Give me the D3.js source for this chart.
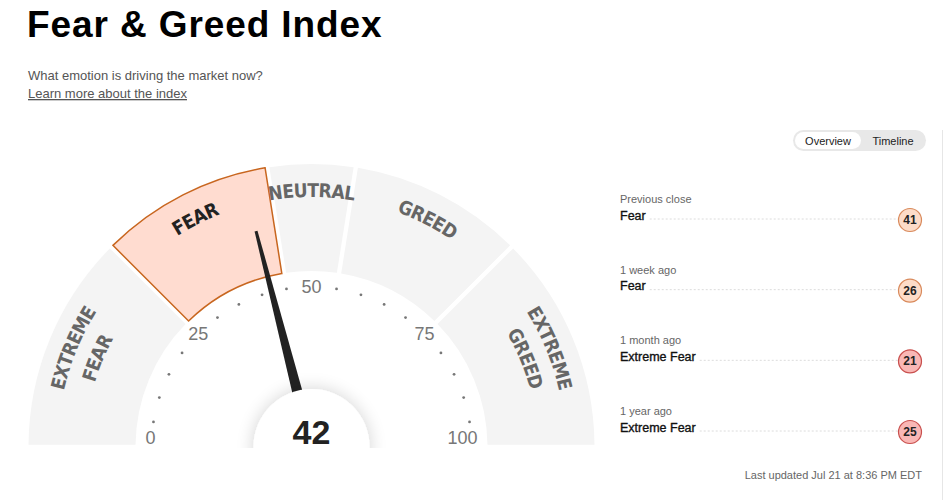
<!DOCTYPE html>
<html>
<head>
<meta charset="utf-8">
<script src="https://cdn.jsdelivr.net/npm/d3@7"></script>
<style>
  body { margin: 0; background: #fff; }
  svg { display: block; font-family: "Liberation Sans", Arial, sans-serif; }
</style>
</head>
<body>
<div id="chart"></div>
<script>
// data
const segmentNames = [["EXTREME", "FEAR"], ["FEAR"], ["NEUTRAL"], ["GREED"], ["EXTREME", "GREED"]];
const segmentBounds = [0, 25, 45, 55, 75, 100];
const tickLabels = [0, 25, 50, 75, 100];
const tickDots = [5, 10, 15, 20, 30, 35, 40, 45, 55, 60, 65, 70, 80, 85, 90, 95];
const currentValue = 42;
const currentSegment = 1;

const historyLabels = ["Previous close", "1 week ago", "1 month ago", "1 year ago"];
const historyRatings = ["Fear", "Fear", "Extreme Fear", "Extreme Fear"];
const historyValues = [41, 26, 21, 25];

const ratingFill = {"Extreme Fear": "#f9b7b5", "Fear": "#fddcc8", "Neutral": "#eeeeee", "Greed": "#cfe8d2", "Extreme Greed": "#a9d9b4"};
const ratingStroke = {"Extreme Fear": "#c9504e", "Fear": "#d98a5c", "Neutral": "#999", "Greed": "#4f9e60", "Extreme Greed": "#2f7f43"};

const W = 952, H = 500;
const gauge = {cx: 311.5, cy: 447, inner: 176, outer: 283};

const svg = d3.select('#chart')
    .append('svg')
    .attr('width', W)
    .attr('height', H);

// header
svg.append("text")
    .attr("x", 27).attr("y", 37)
    .text("Fear & Greed Index")
    .style("font-size", "37px")
    .style("font-weight", "bold")
    .style("letter-spacing", "0.9px")
    .style("fill", "#000");

svg.append("text")
    .attr("x", 28).attr("y", 80)
    .text("What emotion is driving the market now?")
    .style("font-size", "13px")
    .style("fill", "#555");

svg.append("text")
    .attr("x", 28).attr("y", 98)
    .text("Learn more about the index")
    .style("font-size", "13px")
    .style("fill", "#555")
    .style("text-decoration", "underline");

// gauge
const angle = d3.scaleLinear().domain([0, 100]).range([-Math.PI / 2, Math.PI / 2]);

const defs = svg.append("defs");
const shadow = defs.append("filter").attr("id", "glow")
    .attr("x", "-50%").attr("y", "-50%").attr("width", "200%").attr("height", "200%");
shadow.append("feGaussianBlur").attr("in", "SourceAlpha").attr("stdDeviation", 9);
shadow.append("feComponentTransfer").append("feFuncA").attr("type", "linear").attr("slope", 0.18);
const merge = shadow.append("feMerge");
merge.append("feMergeNode");
merge.append("feMergeNode").attr("in", "SourceGraphic");

defs.append("clipPath").attr("id", "gaugeClip")
    .append("rect").attr("x", 0).attr("y", 0).attr("width", W).attr("height", gauge.cy + 1);

const g = svg.append("g")
    .attr("transform", "translate(" + gauge.cx + "," + gauge.cy + ")");

const arc = d3.arc()
    .innerRadius(gauge.inner)
    .outerRadius(gauge.outer)
    .padAngle(0.013);

const segs = d3.range(segmentNames.length).map(i => ({
    startAngle: angle(segmentBounds[i]),
    endAngle: angle(segmentBounds[i + 1]),
    i: i
}));

g.selectAll(".seg")
    .data(segs)
    .enter().append("path")
    .attr("class", "seg")
    .attr("d", arc)
    .style("fill", d => d.i === currentSegment ? "#ffdcd0" : "#f4f4f4")
    .style("stroke", d => d.i === currentSegment ? "#c8661f" : "none")
    .style("stroke-width", 1.5);

// label paths along arcs
function arcPath(v0, v1, r) {
    const a0 = angle(v0), a1 = angle(v1);
    return "M" + (r * Math.sin(a0)) + "," + (-r * Math.cos(a0)) +
        " A" + r + "," + r + " 0 0 1 " + (r * Math.sin(a1)) + "," + (-r * Math.cos(a1));
}

segmentNames.forEach((lines, i) => {
    const radii = lines.length === 2 ? [254, 226] : [250];
    lines.forEach((line, j) => {
        const id = "lbl-" + i + "-" + j;
        defs.append("path").attr("id", id)
            .attr("d", arcPath(segmentBounds[i] - 20, segmentBounds[i + 1] + 20, radii[j]))
            .attr("transform", "translate(" + gauge.cx + "," + gauge.cy + ")");
        svg.append("text")
            .style("font-family", "'DejaVu Sans Condensed', sans-serif")
            .style("font-weight", "bold")
            .style("font-size", "19px")
            .style("letter-spacing", "-0.6px")
            .style("fill", i === currentSegment ? "#222" : "#666")
            .append("textPath")
            .attr("href", "#" + id)
            .attr("startOffset", "50%")
            .attr("text-anchor", "middle")
            .text(line);
    });
});

// ticks
const tickR = 160;
g.selectAll(".dot")
    .data(tickDots)
    .enter().append("circle")
    .attr("cx", d => tickR * Math.sin(angle(d)))
    .attr("cy", d => -tickR * Math.cos(angle(d)))
    .attr("r", 1.4)
    .style("fill", "#777");

// end labels sit inside the band edge, others centred on the dot ring
g.selectAll(".tick-label")
    .data(tickLabels)
    .enter().append("text")
    .attr("x", d => d === 0 ? -166 : d === 100 ? 166 : tickR * Math.sin(angle(d)))
    .attr("y", d => Math.min(-tickR * Math.cos(angle(d)), -9))
    .attr("dy", "0.35em")
    .attr("text-anchor", d => d === 0 ? "start" : d === 100 ? "end" : "middle")
    .text(d => d)
    .style("font-size", "18px")
    .style("fill", "#777");

// needle
const needleLen = 223;
g.append("path")
    .attr("d", "M-5.8,-25 L-1.5," + (-needleLen) + " L1.5," + (-needleLen) + " L5.8,-25 Z")
    .attr("transform", "rotate(" + (angle(currentValue) * 180 / Math.PI) + ")")
    .style("fill", "#222");

// hub
g.append("g").attr("clip-path", "url(#gaugeClip)")
    .attr("transform", "translate(" + (-gauge.cx) + "," + (-gauge.cy) + ")")
    .append("circle")
    .attr("cx", gauge.cx).attr("cy", gauge.cy)
    .attr("r", 58)
    .style("fill", "#fff")
    .attr("filter", "url(#glow)");

g.append("text")
    .attr("x", 0).attr("y", -3)
    .attr("text-anchor", "middle")
    .text(currentValue)
    .style("font-size", "34px")
    .style("font-weight", "bold")
    .style("fill", "#222");

// toggle
const tog = svg.append("g");
tog.append("rect")
    .attr("x", 793).attr("y", 130).attr("width", 133).attr("height", 21).attr("rx", 10.5)
    .style("fill", "#e8e8e8");
tog.append("rect")
    .attr("x", 795).attr("y", 132).attr("width", 66).attr("height", 17).attr("rx", 8.5)
    .style("fill", "#fff");
tog.selectAll("text")
    .data([["Overview", 828], ["Timeline", 893]])
    .enter().append("text")
    .attr("x", d => d[1]).attr("y", 144.5)
    .attr("text-anchor", "middle")
    .text(d => d[0])
    .style("font-size", "11px")
    .style("fill", "#222");

// side divider
svg.append("line")
    .attr("x1", 942.5).attr("x2", 942.5).attr("y1", 130).attr("y2", H)
    .style("stroke", "#e6e6e6");

// history
const hy = d3.scaleLinear().domain([0, historyLabels.length - 1]).range([203, 415]);
const circleX = 910;
const items = svg.selectAll(".hist")
    .data(historyLabels.map((l, i) => ({label: l, rating: historyRatings[i], value: historyValues[i], i: i})))
    .enter().append("g")
    .attr("class", "hist")
    .attr("transform", d => "translate(0," + hy(d.i) + ")");

items.append("text")
    .attr("x", 620).attr("y", 0)
    .text(d => d.label)
    .style("font-size", "11px")
    .style("fill", "#666");

items.append("text")
    .attr("class", "rating")
    .attr("x", 620).attr("y", 16.5)
    .text(d => d.rating)
    .style("font-size", "12.5px")
    .style("fill", "#111")
    .style("stroke", "#111")
    .style("stroke-width", 0.35);

items.each(function () {
    const grp = d3.select(this);
    const w = grp.select(".rating").node().getComputedTextLength();
    grp.insert("line", ":first-child")
        .attr("x1", 620 + w + 4).attr("x2", circleX - 12)
        .attr("y1", 16).attr("y2", 16)
        .style("stroke", "#dcdcdc")
        .style("stroke-dasharray", "2,2");
});

items.append("circle")
    .attr("cx", circleX).attr("cy", 17)
    .attr("r", 11.5)
    .style("fill", d => ratingFill[d.rating])
    .style("stroke", d => ratingStroke[d.rating])
    .style("stroke-width", 1.2);

items.append("text")
    .attr("x", circleX).attr("y", 21)
    .attr("text-anchor", "middle")
    .text(d => d.value)
    .style("font-size", "12px")
    .style("font-weight", "bold")
    .style("fill", "#222");

svg.append("text")
    .attr("x", 922).attr("y", 479)
    .attr("text-anchor", "end")
    .text("Last updated Jul 21 at 8:36 PM EDT")
    .style("font-size", "11px")
    .style("fill", "#666");
</script>
</body>
</html>
